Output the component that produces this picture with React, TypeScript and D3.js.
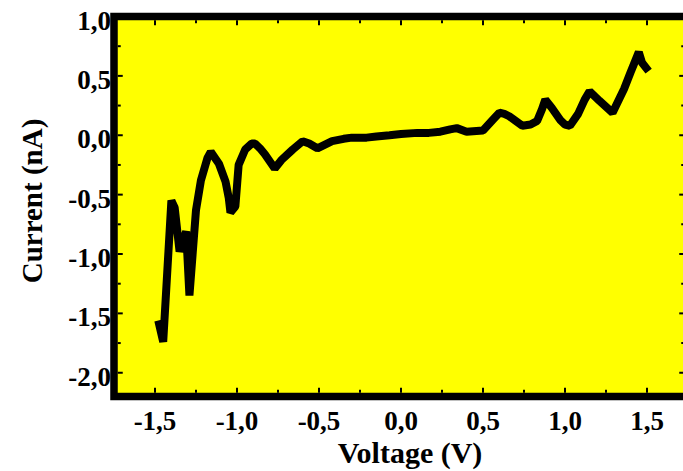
import { useEffect, useRef } from "react";
import * as d3 from "d3";

// I-V curve
const voltage = [
  -1.48, -1.45, -1.40, -1.38, -1.35, -1.31, -1.29, -1.25, -1.22, -1.18,
  -1.16, -1.11, -1.07, -1.05, -1.04, -1.01, -0.99, -0.95, -0.91, -0.89,
  -0.86, -0.83, -0.77, -0.73, -0.66, -0.60, -0.56, -0.51, -0.42, -0.35,
  -0.30, -0.21, -0.15, -0.07, 0.00, 0.10, 0.17, 0.24, 0.30, 0.34,
  0.40, 0.50, 0.56, 0.60, 0.63, 0.66, 0.70, 0.74, 0.79, 0.83,
  0.86, 0.88, 0.92, 0.97, 1.00, 1.03, 1.08, 1.12, 1.15, 1.18,
  1.21, 1.25, 1.29, 1.36, 1.40, 1.45, 1.47, 1.51,
];
const current = [
  -1.56, -1.74, -0.55, -0.61, -0.98, -0.81, -1.35, -0.63, -0.38, -0.19,
  -0.14, -0.24, -0.39, -0.53, -0.65, -0.60, -0.25, -0.12, -0.07, -0.07,
  -0.11, -0.16, -0.28, -0.21, -0.12, -0.05, -0.07, -0.11, -0.05, -0.03,
  -0.02, -0.02, -0.01, 0.00, 0.01, 0.02, 0.02, 0.03, 0.05, 0.06,
  0.03, 0.04, 0.13, 0.19, 0.18, 0.16, 0.12, 0.08, 0.09, 0.12,
  0.22, 0.30, 0.23, 0.13, 0.09, 0.08, 0.18, 0.30, 0.37, 0.33,
  0.29, 0.24, 0.19, 0.39, 0.53, 0.70, 0.61, 0.54,
];

const xTicks = [-1.5, -1.0, -0.5, 0.0, 0.5, 1.0, 1.5];
const yTicks = [-2.0, -1.5, -1.0, -0.5, 0.0, 0.5, 1.0];
const xMinorTicks = [-1.75, -1.25, -0.75, -0.25, 0.25, 0.75, 1.25];
const yMinorTicks = [-1.75, -1.25, -0.75, -0.25, 0.25, 0.75];

const fmt = (v: number) => v.toFixed(1).replace(".", ",");

const App = () => {
  const ref = useRef<SVGSVGElement>(null);

  useEffect(() => {
    const svg = d3.select(ref.current);
    svg.selectAll("*").remove();

    const font = "'Liberation Serif', 'Times New Roman', serif";
    const left = 114, right = 688, top = 16.5, bottom = 396.5;

    const x = d3.scaleLinear().domain([-1.75, 1.75]).range([left, right]);
    const y = d3.scaleLinear().domain([-2.2, 1.0]).range([bottom, top]);

    // plot area
    svg.append("rect")
      .attr("x", left).attr("y", top)
      .attr("width", right - left).attr("height", bottom - top)
      .attr("fill", "#FFFF00");

    // curve
    const pts: [number, number][] = voltage.map((v, i) => [v, current[i]]);
    const line = d3.line<[number, number]>()
      .x(d => x(d[0]))
      .y(d => y(d[1]));

    svg.append("path")
      .attr("d", line(pts))
      .attr("fill", "none")
      .attr("stroke", "#000")
      .attr("stroke-width", 8)
      .attr("stroke-linejoin", "bevel")
      .attr("stroke-linecap", "butt");

    // inward ticks on all four sides
    const tickG = svg.append("g").attr("stroke", "#000").attr("stroke-width", 2);
    const half = 3.75;
    const addX = (vals: number[], len: number) => {
      vals.forEach(v => {
        tickG.append("line").attr("x1", x(v)).attr("x2", x(v))
          .attr("y1", bottom - half).attr("y2", bottom - half - len);
        tickG.append("line").attr("x1", x(v)).attr("x2", x(v))
          .attr("y1", top + half).attr("y2", top + half + len);
      });
    };
    const addY = (vals: number[], len: number) => {
      vals.forEach(v => {
        tickG.append("line").attr("y1", y(v)).attr("y2", y(v))
          .attr("x1", left + half).attr("x2", left + half + len);
        tickG.append("line").attr("y1", y(v)).attr("y2", y(v))
          .attr("x1", right - half).attr("x2", right - half - len);
      });
    };
    addX(xTicks, 5);
    addX(xMinorTicks, 3);
    addY(yTicks, 5);
    addY(yMinorTicks, 3);

    // frame
    svg.append("rect")
      .attr("x", left).attr("y", top)
      .attr("width", right - left).attr("height", bottom - top)
      .attr("fill", "none")
      .attr("stroke", "#000")
      .attr("stroke-width", 7.5);

    // tick labels
    svg.selectAll(".xlab")
      .data(xTicks)
      .enter().append("text")
      .attr("x", d => x(d))
      .attr("y", 430)
      .attr("text-anchor", "middle")
      .attr("font-family", font)
      .attr("font-weight", "bold")
      .attr("font-size", "27px")
      .text(d => fmt(d));

    svg.selectAll(".ylab")
      .data(yTicks)
      .enter().append("text")
      .attr("x", 111)
      .attr("y", d => y(d) + 13)
      .attr("text-anchor", "end")
      .attr("font-family", font)
      .attr("font-weight", "bold")
      .attr("font-size", "27px")
      .text(d => fmt(d));

    // axis titles
    svg.append("text")
      .attr("x", 410)
      .attr("y", 463)
      .attr("text-anchor", "middle")
      .attr("font-family", font)
      .attr("font-weight", "bold")
      .attr("font-size", "30px")
      .text("Voltage (V)");

    svg.append("text")
      .attr("transform", "translate(42,201) rotate(-90)")
      .attr("text-anchor", "middle")
      .attr("font-family", font)
      .attr("font-weight", "bold")
      .attr("font-size", "29px")
      .text("Current (nA)");
  }, []);

  return (
    <svg
      ref={ref}
      width={683}
      height={471}
      style={{ position: "absolute", left: 0, top: 0, background: "#fff" }}
    />
  );
};

export default App;
